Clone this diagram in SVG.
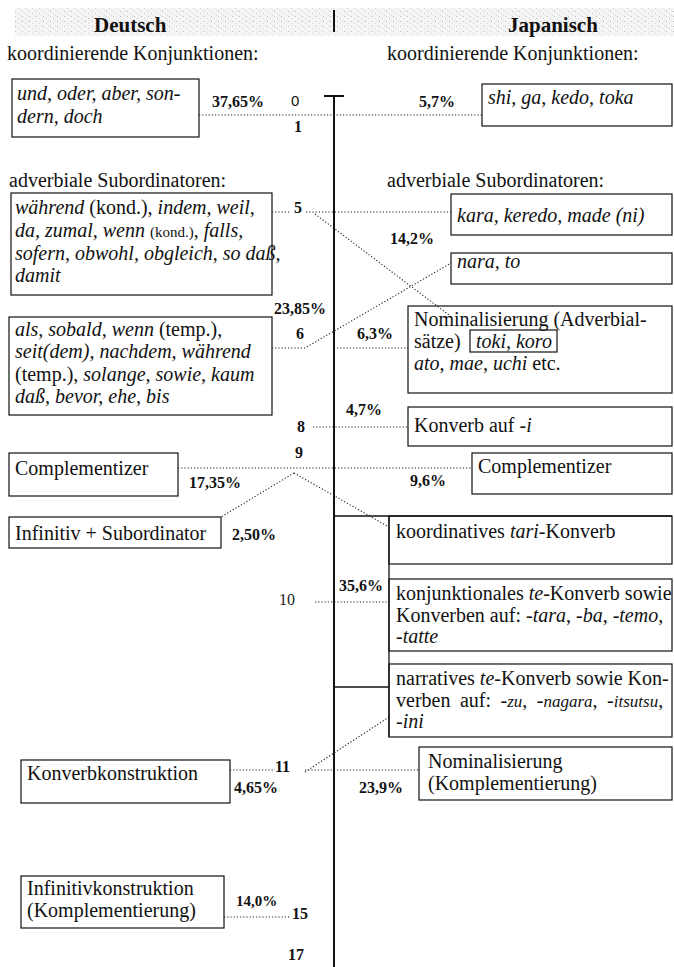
<svg xmlns="http://www.w3.org/2000/svg" width="674" height="967" viewBox="0 0 674 967">
<style>
text{font-family:"Liberation Serif","Times New Roman",serif;fill:#111;}
.t{font-size:20px;}
.h{font-size:21px;font-weight:bold;}
.p{font-size:16px;font-weight:bold;}
.n{font-size:16px;font-weight:bold;}
.nr{font-size:16px;fill:#222;}
.sm{font-size:15px;}
.i{font-style:italic;}
.box{fill:none;stroke:#111;stroke-width:1.2;}
.dot{fill:none;stroke:#222;stroke-width:1.1;stroke-dasharray:1.2 2;}
.solid{fill:none;stroke:#111;stroke-width:1.3;}
.axis{fill:none;stroke:#111;stroke-width:2;}
</style>
<defs>
<pattern id="speck" width="7" height="5" patternUnits="userSpaceOnUse">
<rect width="7" height="5" fill="#f5f5f5"/>
<rect x="1" y="1" width="1" height="1" fill="#bdbdbd"/>
<rect x="4" y="3" width="1" height="1" fill="#cfcfcf"/>
<rect x="6" y="0" width="1" height="1" fill="#dadada"/>
</pattern>
</defs>
<rect x="15" y="8" width="659" height="28" fill="url(#speck)"/>

<g id="header">
<text class="h" x="94" y="32">Deutsch</text>
<text class="h" x="508" y="32">Japanisch</text>
<line class="axis" x1="334" y1="10" x2="334" y2="32"/>
<text class="t" x="7" y="60">koordinierende Konjunktionen:</text>
<text class="t" x="387" y="60">koordinierende Konjunktionen:</text>
<text class="t" x="9" y="187">adverbiale Subordinatoren:</text>
<text class="t" x="387" y="187">adverbiale Subordinatoren:</text>
</g>

<g id="axis">
<line class="axis" x1="334" y1="96" x2="334" y2="967"/>
<line class="axis" x1="324" y1="96" x2="344" y2="96"/>
<text style="font-family:'Liberation Sans',Arial,sans-serif;font-size:15px" x="291" y="106">0</text>
<text class="n" x="294" y="132">1</text>
<text class="n" x="294" y="213">5</text>
<text class="n" x="296" y="339">6</text>
<text class="n" x="297" y="432">8</text>
<text class="n" x="295" y="458">9</text>
<text class="nr" x="279" y="605">10</text>
<text class="n" x="275" y="772">11</text>
<text class="n" x="292" y="919">15</text>
<text class="n" x="288" y="960">17</text>
</g>

<g id="connectors">
<line class="dot" x1="199" y1="115" x2="482" y2="115"/>
<line class="dot" x1="272" y1="212" x2="290" y2="212"/>
<line class="dot" x1="306" y1="212" x2="451" y2="212"/>
<line class="dot" x1="315" y1="214" x2="453" y2="318"/>
<polyline class="dot" points="272,348 305,348 451,263"/>
<line class="dot" x1="337" y1="348" x2="408" y2="348"/>
<line class="dot" x1="313" y1="427" x2="408" y2="427"/>
<line class="dot" x1="178" y1="468" x2="472" y2="468"/>
<line class="dot" x1="294" y1="473" x2="221" y2="517"/>
<line class="dot" x1="294" y1="473" x2="389" y2="527"/>
<line class="dot" x1="315" y1="602" x2="389" y2="602"/>
<line class="dot" x1="230" y1="770" x2="275" y2="770"/>
<line class="dot" x1="305" y1="770" x2="419" y2="770"/>
<line class="dot" x1="305" y1="772" x2="389" y2="717"/>
<line class="dot" x1="224" y1="917" x2="290" y2="917"/>
<line class="solid" x1="334" y1="516" x2="672" y2="516"/>
<line class="solid" x1="389" y1="516" x2="389" y2="737"/>
<line class="solid" x1="334" y1="687" x2="389" y2="687"/>
</g>

<g id="labels">
<text class="p" x="212" y="107">37,65%</text>
<text class="p" x="419" y="107">5,7%</text>
<text class="p" x="390" y="244">14,2%</text>
<text class="p" x="274" y="314">23,85%</text>
<text class="p" x="357" y="339">6,3%</text>
<text class="p" x="346" y="415">4,7%</text>
<text class="p" x="189" y="488">17,35%</text>
<text class="p" x="410" y="486">9,6%</text>
<text class="p" x="232" y="540">2,50%</text>
<text class="p" x="339" y="591">35,6%</text>
<text class="p" x="234" y="793">4,65%</text>
<text class="p" x="359" y="793">23,9%</text>
<text class="p" x="236" y="906" style="font-size:15px">14,0%</text>
</g>

<g id="de-koord">
<rect class="box" x="12" y="79" width="187" height="58"/>
<text class="t i" x="17" y="100">und, oder, aber, son-</text>
<text class="t i" x="17" y="123">dern, doch</text>
</g>

<g id="ja-koord">
<rect class="box" x="482" y="84" width="190" height="42"/>
<text class="t i" x="488" y="104">shi, ga, kedo, toka</text>
</g>

<g id="de-adv1">
<rect class="box" x="11" y="193" width="261" height="102"/>
<text class="t" x="15" y="214"><tspan class="i">während</tspan> (kond.), <tspan class="i">indem, weil,</tspan></text>
<text class="t" x="15" y="237"><tspan class="i">da, zumal, wenn</tspan> <tspan class="sm">(kond.)</tspan>, <tspan class="i">falls,</tspan></text>
<text class="t i" x="15" y="260">sofern, obwohl, obgleich, so daß,</text>
<text class="t i" x="15" y="282">damit</text>
</g>

<g id="ja-kara">
<rect class="box" x="451" y="194" width="221" height="41"/>
<text class="t i" x="457" y="222">kara, keredo, made (ni)</text>
</g>

<g id="ja-nara">
<rect class="box" x="451" y="253" width="221" height="31"/>
<text class="t i" x="457" y="268">nara, to</text>
</g>

<g id="de-adv2">
<rect class="box" x="9" y="317" width="263" height="98"/>
<text class="t" x="15" y="336"><tspan class="i">als, sobald, wenn</tspan> (temp.),</text>
<text class="t i" x="15" y="358">seit(dem), nachdem, während</text>
<text class="t" x="15" y="381">(temp.), <tspan class="i">solange, sowie, kaum</tspan></text>
<text class="t i" x="15" y="403">daß, bevor, ehe, bis</text>
</g>

<g id="ja-nominal-adv">
<rect class="box" x="408" y="306" width="264" height="87"/>
<text class="t" x="414" y="326">Nominalisierung (Adverbial-</text>
<text class="t" x="414" y="348">sätze)</text>
<rect class="box" x="470" y="330" width="87" height="22"/>
<text class="t i" x="476" y="348">toki, koro</text>
<text class="t" x="414" y="370"><tspan class="i">ato, mae, uchi</tspan> etc.</text>
</g>

<g id="ja-konverb-i">
<rect class="box" x="408" y="407" width="264" height="39"/>
<text class="t" x="414" y="432">Konverb auf -<tspan class="i">i</tspan></text>
</g>

<g id="de-compl">
<rect class="box" x="9" y="453" width="169" height="43"/>
<text class="t" x="15" y="475">Complementizer</text>
</g>

<g id="ja-compl">
<rect class="box" x="472" y="453" width="200" height="41"/>
<text class="t" x="478" y="473">Complementizer</text>
</g>

<g id="de-inf-sub">
<rect class="box" x="9" y="517" width="212" height="31"/>
<text class="t" x="15" y="540">Infinitiv + Subordinator</text>
</g>

<g id="ja-tari">
<rect class="box" x="389" y="516" width="283" height="48"/>
<text class="t" x="396" y="538">koordinatives <tspan class="i">tari</tspan>-Konverb</text>
</g>

<g id="ja-te">
<rect class="box" x="389" y="579" width="283" height="72"/>
<text class="t" x="396" y="600">konjunktionales <tspan class="i">te</tspan>-Konverb sowie</text>
<text class="t" x="396" y="622">Konverben auf: -<tspan class="i">tara</tspan>, -<tspan class="i">ba</tspan>, -<tspan class="i">temo</tspan>,</text>
<text class="t" x="396" y="643">-<tspan class="i">tatte</tspan></text>
</g>

<g id="ja-narr">
<rect class="box" x="389" y="664" width="283" height="73"/>
<text class="t" x="396" y="685">narratives <tspan class="i">te</tspan>-Konverb sowie Kon-</text>
<text class="t" x="396" y="707" word-spacing="4.5">verben auf: -<tspan class="i" style="font-size:17px">zu</tspan>, -<tspan class="i" style="font-size:17px">nagara</tspan>, -<tspan class="i" style="font-size:17px">itsutsu</tspan>,</text>
<text class="t" x="396" y="728">-<tspan class="i">ini</tspan></text>
</g>

<g id="de-konverb">
<rect class="box" x="21" y="760" width="209" height="43"/>
<text class="t" x="27" y="780">Konverbkonstruktion</text>
</g>

<g id="ja-nominal-kompl">
<rect class="box" x="419" y="747" width="253" height="53"/>
<text class="t" x="428" y="768">Nominalisierung</text>
<text class="t" x="428" y="790">(Komplementierung)</text>
</g>

<g id="de-infkonstr">
<rect class="box" x="21" y="876" width="203" height="52"/>
<text class="t" x="27" y="895">Infinitivkonstruktion</text>
<text class="t" x="27" y="917">(Komplementierung)</text>
</g>
</svg>
